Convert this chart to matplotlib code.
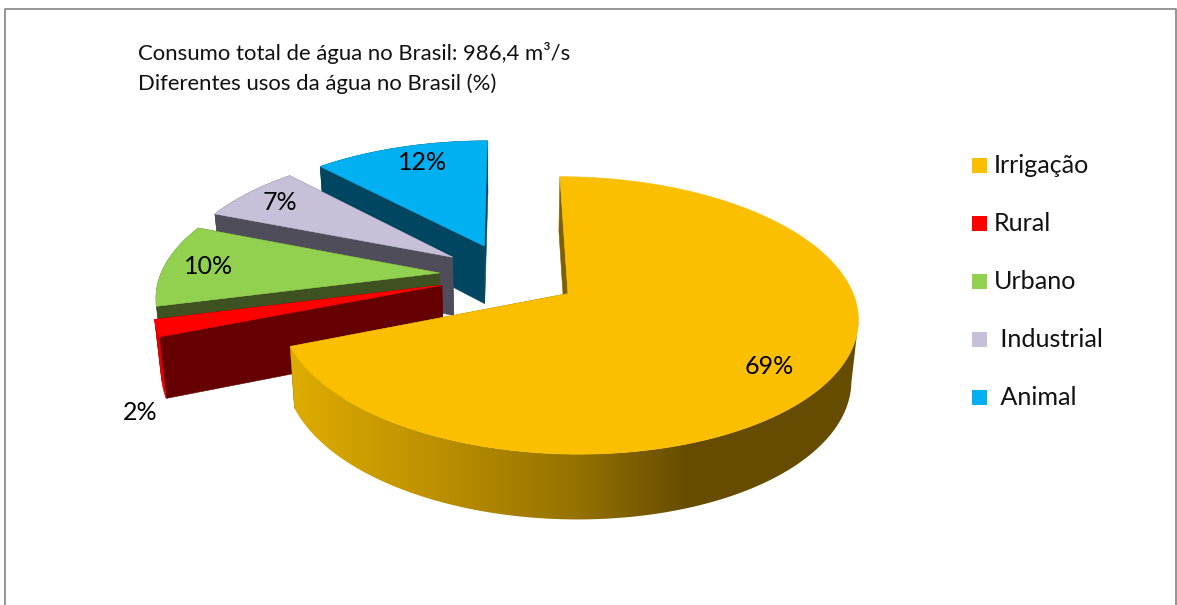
import numpy as np
import matplotlib
matplotlib.use("Agg")
import matplotlib.pyplot as plt
from matplotlib.patches import Polygon, Rectangle
from matplotlib.colors import LinearSegmentedColormap

plt.rcParams['font.family'] = ['Lato', 'DejaVu Sans']

categories = ["Irrigação", "Rural", "Urbano", " Industrial", " Animal"]
values = [69, 2, 10, 7, 12]
top_colors = ['#FBBF00', '#FF0000', '#92D050', '#C8BFD9', '#00B0F0']
wall_colors = ['#7F6000', '#660000', '#3D5121', '#504D5B', '#004661']
rim_colors = [None, '#E00000', '#3D5121', '#504D5B', '#004661']
label_xy = [(769, 367), (140, 412), (209, 267), (280, 203), (423, 163)]

# pie geometry in picture pixels
cx, cy = 509, 275
R, b = 279, 129.5
persp = 0.154
explode = 0.25


def project(u, v):
    s = 1 / (1 + persp * v)
    return cx + R * u * s, cy - b * v * s


def drop(x, y, v):
    # bottom face sits a bit lower and closer to the centre line
    return cx + (x - cx) * 0.98, y + 59 - 5.5 * v


fig = plt.figure(figsize=(11.77, 6.05), dpi=100)
ax = fig.add_axes([0, 0, 1, 1])

ax.plot([5, 5, 1176, 1176], [605, 9, 9, 605], color='#8C8C8C', lw=1.3)

edges = np.concatenate([[0], np.cumsum(values)]) / sum(values) * 2 * np.pi
slices = []
for i in range(len(values)):
    slices.append((i, edges[i], edges[i + 1]))


def wall(xs, ys, vs, color, z):
    xs, ys, vs = np.array(xs), np.array(ys), np.array(vs)
    bx, by = drop(xs, ys, vs)
    pts = np.column_stack([np.r_[xs, bx[::-1]], np.r_[ys, by[::-1]]])
    p = Polygon(pts, closed=True, fc=color, ec=color, lw=0.4, zorder=z)
    ax.add_patch(p)
    return p


shade = LinearSegmentedColormap.from_list('rim', [(0.0, '#DEAC00'), (0.35, '#BE9100'),
                                                  (0.71, '#967300'), (1.0, '#664C00')])

# far slices first, the big one last
for order, (i, a0, a1) in enumerate(reversed(slices)):
    z = order * 10 + 2
    mid = (a0 + a1) / 2
    u0, v0 = explode * np.sin(mid), explode * np.cos(mid)
    t = np.linspace(a0, a1, 160)
    u = u0 + np.sin(t)
    v = v0 + np.cos(t)
    x, y = project(u, v)
    ax_, ay_ = project(u0, v0)

    # radial sides
    wall([x[0], ax_], [y[0], ay_], [v[0], v0], wall_colors[i], z)
    wall([x[-1], ax_], [y[-1], ay_], [v[-1], v0], wall_colors[i], z)

    # outer rim, the big slice gets a left to right gradient
    if i == 0:
        near = t >= t[np.argmax(x)]
        clip = wall(x[near], y[near], v[near], 'none', z + 1)
        clip.set_edgecolor('none')
        grad = np.linspace(0, 1, 400).reshape(1, -1)
        im = ax.imshow(grad, cmap=shade, extent=(290, 690, 530, 300), aspect='auto', zorder=z + 1)
        # right of the ramp stays dark
        im2 = ax.imshow([[1.0]], cmap=shade, vmin=0, vmax=1, extent=(690, 870, 530, 300),
                        aspect='auto', zorder=z + 1)
        im.set_clip_path(clip)
        im2.set_clip_path(clip)
    else:
        wall(x, y, v, rim_colors[i], z + 1)

    ax.add_patch(Polygon(np.column_stack([np.r_[ax_, x], np.r_[ay_, y]]), closed=True,
                         fc=top_colors[i], ec=top_colors[i], lw=0.4, zorder=z + 2))

ax.set_xlim(0, 1177)
ax.set_ylim(605, 0)
ax.axis('off')

for val, (lx, ly) in zip(values, label_xy):
    ax.text(lx, ly, f"{val}%", ha='center', va='center', fontsize=18, color='black', zorder=100)

ax.text(138, 53, "Consumo total de água no Brasil: 986,4 m³/s", fontsize=15.9, va='center', color='#111111')
ax.text(138, 84, "Diferentes usos da água no Brasil (%)", fontsize=15.9, va='center', color='#111111')

for i, name in enumerate(categories):
    yc = 165.5 + i * 58
    ax.add_patch(Rectangle((972, yc - 7.5), 15, 15, fc=top_colors[i], ec='none'))
    ax.text(994, yc, name, fontsize=18.1, va='center', color='#111111')

fig.savefig("out.png", dpi=100)
